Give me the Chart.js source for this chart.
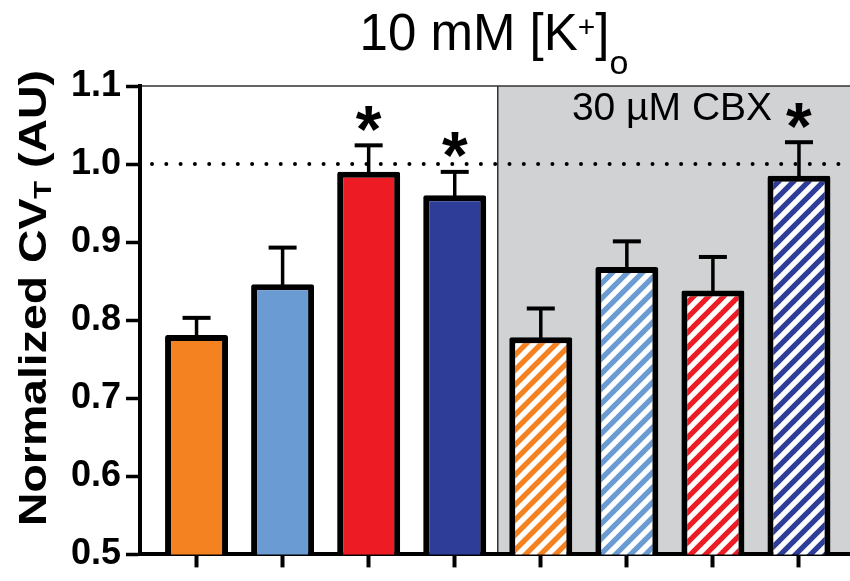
<!DOCTYPE html>
<html>
<head>
<meta charset="utf-8">
<script src="https://cdn.jsdelivr.net/npm/chart.js@4/dist/chart.umd.min.js"></script>
<style>
  html, body { margin: 0; padding: 0; background: #fff; }
  #wrap { width: 850px; height: 581px; position: relative; }
</style>
</head>
<body>
<div id="wrap"><canvas id="cvChart"></canvas></div>
<script>
// ==================== DATA ====================
const conditions = ['A', 'B', 'C', 'D', 'A + CBX', 'B + CBX', 'C + CBX', 'D + CBX'];
const xPositions = [0, 1, 2, 3, 4, 5, 6, 7];
const meanCV = [0.781, 0.846, 0.990, 0.960, 0.778, 0.868, 0.838, 0.985];
const semCV = [0.022, 0.047, 0.034, 0.030, 0.037, 0.033, 0.043, 0.043];
const significant = [false, false, true, true, false, false, false, true];
const hatched = [false, false, false, false, true, true, true, true];
const barColors = ['#f58220', '#6a9bd2', '#ed1c24', '#2e3d98', '#f58220', '#6a9bd2', '#ed1c24', '#2e3d98'];
const yTicks = [0.5, 0.6, 0.7, 0.8, 0.9, 1.0, 1.1];
const refLine = 1.0;
const cbxStart = 3.5;

const FONT = '"Liberation Sans", Arial, Helvetica, sans-serif';

// ==================== HATCH PATTERNS ====================
function makeHatch(color) {
    const size = 15;
    const c = document.createElement('canvas');
    c.width = size;
    c.height = size;
    const g = c.getContext('2d');
    g.fillStyle = '#ffffff';
    g.fillRect(0, 0, size, size);
    g.strokeStyle = color;
    g.lineWidth = size / Math.SQRT2 / 2;
    g.lineCap = 'square';
    [[-size, size * 2, size * 2, -size], [-size, size, size, -size], [0, size * 2, size * 2, 0]].forEach(([x1, y1, x2, y2]) => {
        g.beginPath();
        g.moveTo(x1, y1);
        g.lineTo(x2, y2);
        g.stroke();
    });
    return g.createPattern(c, 'repeat');
}

const barFills = barColors.map((col, i) => hatched[i] ? makeHatch(col) : col);

// ==================== PLUGINS ====================
const panelPlugin = {
    id: 'panel',
    beforeDraw(chart) {
        const { ctx, chartArea: a, scales: { x } } = chart;
        const xc = x.getPixelForValue(cbxStart);
        ctx.save();
        ctx.fillStyle = '#d1d2d4';
        ctx.fillRect(xc, a.top, a.right - xc, a.bottom - a.top);
        ctx.strokeStyle = '#333';
        ctx.lineWidth = 1.5;
        ctx.beginPath();
        ctx.moveTo(a.left, a.top);
        ctx.lineTo(a.right, a.top);
        ctx.moveTo(xc, a.top);
        ctx.lineTo(xc, a.bottom);
        ctx.stroke();
        ctx.restore();
    },
    beforeDatasetsDraw(chart) {
        const { ctx, chartArea: a, scales: { y } } = chart;
        const yy = y.getPixelForValue(refLine);
        ctx.save();
        ctx.strokeStyle = '#000';
        ctx.lineWidth = 4;
        ctx.lineCap = 'round';
        ctx.setLineDash([0, 14.3]);
        ctx.beginPath();
        ctx.moveTo(a.left + 12, yy);
        ctx.lineTo(a.right, yy);
        ctx.stroke();
        ctx.restore();
    }
};

const errorPlugin = {
    id: 'errors',
    afterDatasetsDraw(chart) {
        const { ctx, scales: { x, y } } = chart;
        ctx.save();
        ctx.strokeStyle = '#000';
        ctx.fillStyle = '#000';
        xPositions.forEach((xv, i) => {
            const px = x.getPixelForValue(xv);
            const top = y.getPixelForValue(meanCV[i]);
            const cap = y.getPixelForValue(meanCV[i] + semCV[i]);
            ctx.lineWidth = 3.5;
            ctx.beginPath();
            ctx.moveTo(px, top + 2);
            ctx.lineTo(px, cap);
            ctx.stroke();
            ctx.lineWidth = 4;
            ctx.beginPath();
            ctx.moveTo(px - 14, cap);
            ctx.lineTo(px + 14, cap);
            ctx.stroke();
            if (significant[i]) {
                ctx.font = 'bold 66px ' + FONT;
                const m = ctx.measureText('*');
                const cy = cap - 27;
                const base = cy + (m.actualBoundingBoxAscent - m.actualBoundingBoxDescent) / 2;
                ctx.textAlign = 'center';
                ctx.fillText('*', px, base);
            }
        });
        ctx.restore();
    }
};

function drawRuns(ctx, runs, x0, baseY) {
    let x = x0;
    runs.forEach(r => {
        ctx.font = r.f;
        ctx.fillText(r.t, x, baseY + r.dy);
        x += ctx.measureText(r.t).width;
    });
}

function runsWidth(ctx, runs) {
    return runs.reduce((w, r) => {
        ctx.font = r.f;
        return w + ctx.measureText(r.t).width;
    }, 0);
}

const textPlugin = {
    id: 'texts',
    afterDraw(chart) {
        const { ctx } = chart;
        ctx.save();
        ctx.fillStyle = '#000';
        ctx.textAlign = 'left';
        ctx.textBaseline = 'alphabetic';

        // main title
        const title = [
            { t: '10 mM [K', f: '51px ' + FONT, dy: 0 },
            { t: '+', f: '30px ' + FONT, dy: -13 },
            { t: ']', f: '51px ' + FONT, dy: 0 },
            { t: 'o', f: '34px ' + FONT, dy: 24 }
        ];
        const tw = runsWidth(ctx, title);
        drawRuns(ctx, title, 494 - tw / 2, 50);

        // panel label
        ctx.font = '39px ' + FONT;
        ctx.textAlign = 'center';
        ctx.fillText('30 \u00b5M CBX', 672, 120);
        ctx.textAlign = 'left';

        // y axis title
        const yt = [
            { t: 'Normalized CV', f: 'bold 38px ' + FONT, dy: 0 },
            { t: 'T', f: 'bold 24px ' + FONT, dy: 5 },
            { t: ' (AU)', f: 'bold 38px ' + FONT, dy: 0 }
        ];
        const yw = runsWidth(ctx, yt);
        ctx.translate(46, 298);
        ctx.rotate(-Math.PI / 2);
        ctx.scale(456 / yw, 1);
        drawRuns(ctx, yt, -yw / 2, 0);
        ctx.restore();
    }
};

// ==================== CHART ====================
Chart.defaults.font.family = FONT;

new Chart(document.getElementById('cvChart'), {
    type: 'bar',
    data: {
        labels: conditions,
        datasets: [{
            data: xPositions.map((xv, i) => ({ x: xv, y: meanCV[i] })),
            backgroundColor: barFills,
            borderColor: '#000',
            borderWidth: 6,
            borderRadius: 2,
            borderSkipped: 'start',
            barPercentage: 0.732,
            categoryPercentage: 1
        }]
    },
    options: {
        responsive: true,
        maintainAspectRatio: false,
        animation: false,
        layout: { padding: { top: 86, left: 0, right: 0, bottom: 0 } },
        plugins: {
            legend: { display: false },
            tooltip: { enabled: false },
            title: { display: false }
        },
        scales: {
            x: {
                type: 'linear',
                offset: false,
                min: -0.657,
                max: 7.593,
                afterBuildTicks: s => { s.ticks = xPositions.map(v => ({ value: v })); },
                afterFit: s => { s.height = 16; },
                ticks: { display: false },
                grid: { offset: false, drawOnChartArea: false, drawTicks: true, tickLength: 13, tickWidth: 4, tickColor: '#000' },
                border: { display: true, color: '#000', width: 4 }
            },
            y: {
                min: 0.5,
                max: 1.1,
                afterBuildTicks: s => { s.ticks = yTicks.map(v => ({ value: v })); },
                afterFit: s => { s.width = 140; },
                ticks: {
                    color: '#000',
                    padding: 5,
                    font: { size: 36, weight: 'bold' },
                    callback: v => v.toFixed(1)
                },
                grid: { drawOnChartArea: false, drawTicks: true, tickLength: 14, tickWidth: 3.5, tickColor: '#000' },
                border: { display: true, color: '#000', width: 4 }
            }
        }
    },
    plugins: [panelPlugin, errorPlugin, textPlugin]
});
</script>
</body>
</html>
